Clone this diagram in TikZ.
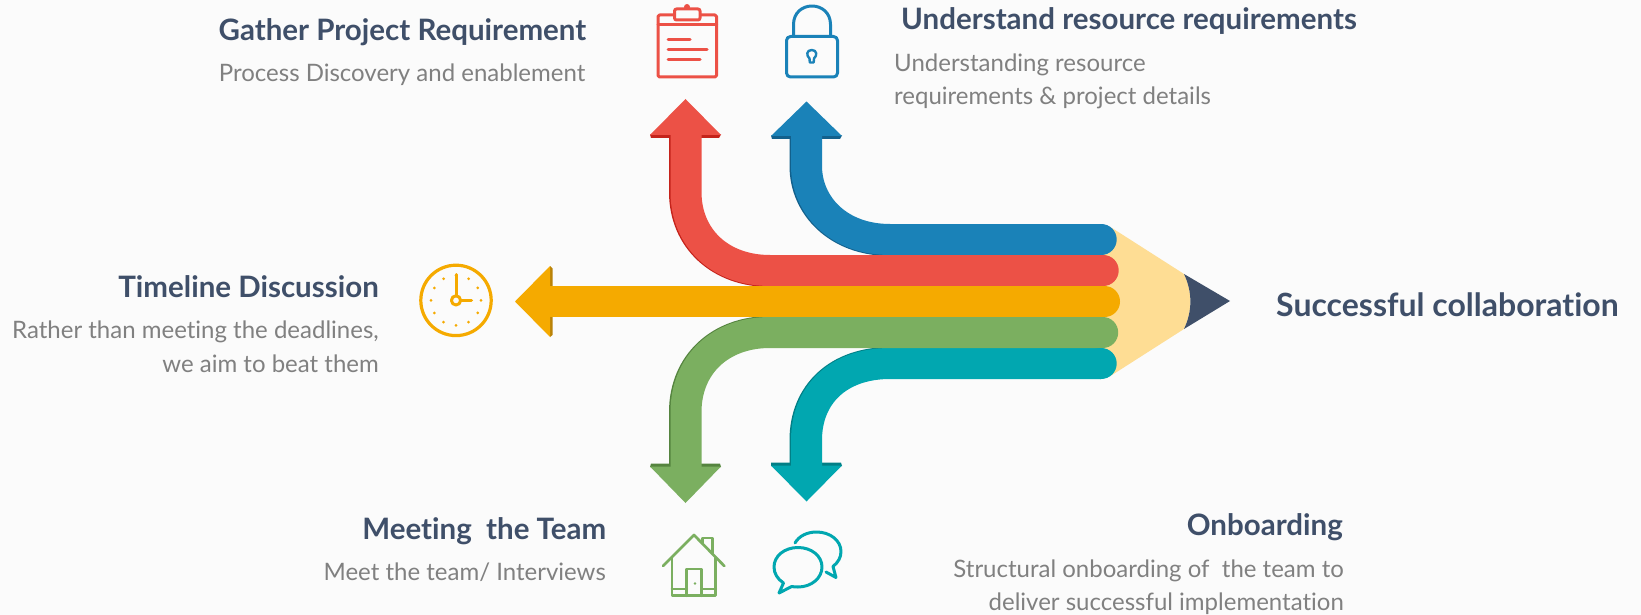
\documentclass[tikz,border=0pt]{standalone}
\usepackage{fontspec}
\setmainfont[Ligatures=NoCommon]{Lato}
\usetikzlibrary{calc}
\definecolor{bgc}{HTML}{FBFBFB}
\definecolor{redc}{HTML}{EC5146}
\definecolor{redd}{HTML}{C5231B}
\definecolor{bluec}{HTML}{1A82B8}
\definecolor{blued}{HTML}{12608C}
\definecolor{yelc}{HTML}{F5AA00}
\definecolor{yeld}{HTML}{B98209}
\definecolor{grnc}{HTML}{7BAF60}
\definecolor{grnd}{HTML}{55843F}
\definecolor{teac}{HTML}{01A7B0}
\definecolor{tead}{HTML}{017F86}
\definecolor{penc}{HTML}{FEDD94}
\definecolor{navy}{HTML}{3F4F69}
\definecolor{txtg}{HTML}{808080}
\tikzset{
 x=1pt,y=-1pt,
 title/.style={inner sep=0pt,text=navy,font=\fontsize{29.5}{32}\selectfont\bfseries},
 bigtitle/.style={inner sep=0pt,text=navy,font=\fontsize{32}{35}\selectfont\bfseries},
 desc/.style={inner sep=0pt,text=txtg,font=\fontsize{24}{28}\selectfont},
 band/.style={line width=31pt,line cap=butt},
 icon/.style={line width=3pt,line join=round,line cap=round},
}
\begin{document}
\begin{tikzpicture}
\useasboundingbox (0,0) rectangle (1641,615);
\fill[bgc] (0,0) rectangle (1641,615);
% pencil
\fill[penc] (1100,224) -- (1112,228) -- (1184,274) .. controls (1192.5,292) and (1192.5,311) .. (1184,329) -- (1112,375) -- (1100,379) -- cycle;
\fill[navy] (1184,274) .. controls (1192.5,292) and (1192.5,311) .. (1184,329) -- (1230,301) -- cycle;
% blue arrow
\coordinate (bE) at (1101,239.5);
\fill[blued] (771,135.5) -- (842,135.5) -- (840,139) -- (772,139) -- cycle;
\draw[band,blued] (805,136) -- (805,166) .. controls (805,206) and (838,240.5) .. (890,240.5) -- (bE);
\draw[band,bluec] (806.5,136) -- (806.5,166) .. controls (806.5,205) and (838,239.5) .. (890,239.5) -- (bE);
\fill[bluec] (806.5,101.5) -- (842,136) -- (771,136) -- cycle;
% red arrow
\coordinate (rE) at (1103,270.5);
\fill[redd] (650,134.5) -- (721,134.5) -- (719,138) -- (651,138) -- cycle;
\draw[band,redd] (684.5,135) -- (684.5,192) .. controls (684.5,239) and (720,271.5) .. (770,271.5) -- (rE);
\draw[band,redc] (686,135) -- (686,192) .. controls (686,238) and (720,270.5) .. (770,270.5) -- (rE);
\fill[redc] (685.5,99) -- (721,135) -- (650,135) -- cycle;
% teal arrow
\coordinate (tE) at (1101,363.5);
\fill[tead] (771,462.5) -- (841,462.5) -- (842,466) -- (771,466) -- cycle;
\draw[band,tead] (805,466) -- (805,440) .. controls (805,394) and (838,362.5) .. (890,362.5) -- (tE);
\draw[band,teac] (806.5,466) -- (806.5,440) .. controls (806.5,395) and (838,363.5) .. (890,363.5) -- (tE);
\fill[teac] (771,465.5) -- (842,465.5) -- (806.5,501.5) -- cycle;
% green arrow
\coordinate (gE) at (1103,332.5);
\fill[grnd] (651,463.5) -- (720,463.5) -- (721,467) -- (650,467) -- cycle;
\draw[band,grnd] (684.5,467) -- (684.5,412) .. controls (684.5,364) and (720,331.5) .. (770,331.5) -- (gE);
\draw[band,grnc] (686,467) -- (686,412) .. controls (686,365) and (720,332.5) .. (770,332.5) -- (gE);
\fill[grnc] (650,466.5) -- (721,466.5) -- (685.5,503) -- cycle;
% yellow arrow
\coordinate (yE) at (1104.5,301.5);
\fill[yeld] (550,266) -- (552.5,268.5) -- (552.5,335) -- (550,337) -- cycle;
\draw[band,yelc] (549,301.5) -- (yE);
\fill[yelc] (515,301.5) -- (550,266) -- (550,337) -- cycle;
% round ends
\fill[bluec] (1101.2,239.5) circle[radius=15.5];
\fill[redc] (1103.2,270.5) circle[radius=15.5];
\fill[yelc] (1104.5,301.5) circle[radius=15.5];
\fill[grnc] (1102.7,332.5) circle[radius=15.5];
\fill[teac] (1101.2,363.5) circle[radius=15.5];
% clipboard
\begin{scope}[icon,draw=redc]
\draw[rounded corners=1.5pt] (674,15) -- (658,15) -- (658,77) -- (716.5,77) -- (716.5,15) -- (700,15);
\draw (658,25) -- (716.5,25);
\draw[rounded corners=2pt,fill=bgc] (674.5,9) rectangle (700,20);
\fill[redc] (687,7) circle[radius=3];
\draw (668,39.3) -- (690,39.3) (668,49.3) -- (707,49.3) (668,59.3) -- (700,59.3);
\end{scope}
% lock
\begin{scope}[icon,draw=bluec]
\draw[rounded corners=4pt] (786.5,36.5) rectangle (837.5,77);
\draw (793.5,36) -- (793.5,24.5) .. controls (793.5,13) and (802,6) .. (812,6) .. controls (822,6) and (830.5,13) .. (830.5,24.5) -- (830.5,36);
\draw[line width=2.4pt] (809.5,58.5) .. controls (806,55.5) and (806.5,50) .. (811.7,50) .. controls (817,50) and (817.5,55.5) .. (814,58.5) -- (813.7,62.5) -- (809.8,62.5) -- cycle;
\end{scope}
% clock
\begin{scope}[icon,draw=yelc]
\draw[line width=3.2pt] (456,300.4) circle[radius=35.2];
\draw[line width=3pt] (456,300.4) circle[radius=4.6];
\draw (456,295.5) -- (456,274.5) (461,300.4) -- (471.5,300.4);
\foreach \a in {0,30,...,330} \fill[yelc] ($(456,300.4)+(\a:25)$) circle[radius=1.5];
\end{scope}
% house
\begin{scope}[icon,draw=grnc,line width=2.7pt]
\draw (663,566) -- (694,535) -- (724.3,566);
\draw (702.7,543.5) -- (702.7,538) -- (712.7,538) -- (712.7,553.5);
\draw (672,557.5) -- (672,595.7) -- (715.7,595.7) -- (715.7,557.5);
\draw (672,589) -- (686.7,589) (701.7,589) -- (715.7,589);
\draw (686.7,595.7) -- (686.7,569) -- (701.7,569) -- (701.7,595.7);
\fill[grnc] (695,583.5) circle[radius=1.3];
\end{scope}
% chat
\begin{scope}[icon,draw=teac]
\draw (783.5,583) .. controls (777.5,579) and (774,573.5) .. (774,567) .. controls (774,556) and (784.5,547.5) .. (798,547.5) .. controls (811.5,547.5) and (822,556) .. (822,567) .. controls (822,578) and (811.5,587) .. (798,587) .. controls (796,587) and (793.5,587) .. (791.7,586.5) -- (779,593) -- cycle;
\draw (795,543) .. controls (799,536) and (807,532) .. (816.7,532) .. controls (830,532) and (841,540.5) .. (841,551.5) .. controls (841,557.5) and (838,562.5) .. (833,566.5) -- (836,577.5) -- (826,572);
\end{scope}
% labels
\node[title,anchor=base east] (t1) at (586.5,40.5) {Gather Project Requirement};
\node[desc,anchor=base east] (d1) at (585.5,81.5) {Process Discovery and enablement};
\node[title,anchor=base west] (t2) at (901,30) {Understand resource requirements};
\node[desc,anchor=base west] (d2a) at (894,71.5) {Understanding resource};
\node[desc,anchor=base west] (d2b) at (894,104.5) {requirements \& project details};
\node[title,anchor=base east] (t3) at (379,297.5) {Timeline Discussion};
\node[desc,anchor=base east] (d3a) at (379,338.5) {Rather than meeting the deadlines,};
\node[desc,anchor=base east] (d3b) at (379,372) {we aim to beat them};
\node[bigtitle,anchor=base west] (t4) at (1276,316) {Successful collaboration};
\node[title,anchor=base east] (t5) at (606.5,539.5) {Meeting\ \ the Team};
\node[desc,anchor=base east] (d5) at (606,580) {Meet the team/ Interviews};
\node[title,anchor=base east] (t6) at (1343,535.5) {Onboarding};
\node[desc,anchor=base east] (d6a) at (1344,577.3) {Structural onboarding of\ \ the team to};
\node[desc,anchor=base east] (d6b) at (1344,610) {deliver successful implementation};
\end{tikzpicture}
\end{document}
